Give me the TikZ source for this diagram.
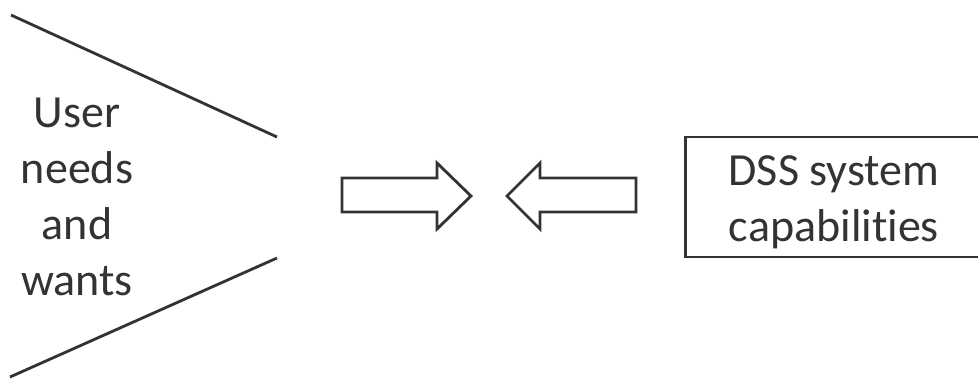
\documentclass[tikz,border=0pt]{standalone}
\usepackage{fontspec}
\setmainfont[Ligatures=NoCommon]{Carlito}
\usetikzlibrary{positioning}

\begin{document}
\begin{tikzpicture}[
    x=0.02cm, y=-0.02cm,
    line width=1.6pt,
    every node/.style={text=black!80, font=\fontsize{26.2}{31.9}\selectfont},
    outline/.style={draw=black!80, line join=miter},
]
\useasboundingbox (0,0) rectangle (978,380);
\clip (0,0) rectangle (978,380);

% user side
\node[align=center] (user) at (77,197) {User\\needs\\and\\wants};
\draw[outline] (11,15) -- (277,137);
\draw[outline] (10,377) -- (277,258);

% the two arrows
\draw[outline] (342,178) -- (437,178) -- (437,163) -- (471,196)
    -- (437,229) -- (437,212) -- (342,212) -- cycle;
\draw[outline] (636,178) -- (540,178) -- (540,163) -- (507,196)
    -- (540,229) -- (540,212) -- (636,212) -- cycle;

% system side
\node[outline, minimum width=330*0.02cm, minimum height=120*0.02cm,
    align=center, anchor=west] (dss) at (684,197) {};
\node[align=center] (dsstext) at (834,202) {DSS system\\capabilities};
\end{tikzpicture}
\end{document}
